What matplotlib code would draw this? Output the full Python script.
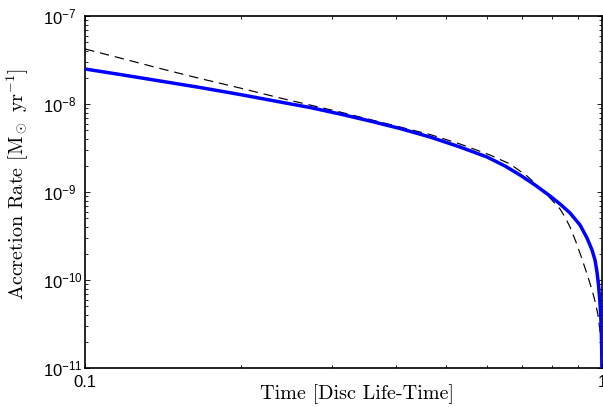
import numpy as np
import matplotlib
matplotlib.use("Agg")
import matplotlib.pyplot as plt
from matplotlib.ticker import LogLocator, FuncFormatter, NullFormatter

# ---- data (time in disc life-times, accretion rate in Msun/yr) ----
t_model = [0.1, 0.1169, 0.1397, 0.1669, 0.1994, 0.2384, 0.2724, 0.3113, 0.3558,
           0.4067, 0.4649, 0.5314, 0.5993, 0.6493, 0.6941, 0.7421, 0.7934,
           0.8295, 0.8672, 0.9067, 0.9354, 0.9565, 0.9693, 0.9780, 0.9846,
           0.9902, 0.9947, 0.9973, 0.9987, 0.9997]
mdot_model = [2.499e-8, 2.164e-8, 1.826e-8, 1.540e-8, 1.282e-8, 1.054e-8,
              9.125e-9, 7.697e-9, 6.408e-9, 5.267e-9, 4.217e-9, 3.245e-9,
              2.499e-9, 1.974e-9, 1.560e-9, 1.201e-9, 9.007e-10, 7.305e-10,
              5.774e-10, 4.217e-10, 3.001e-10, 2.193e-10, 1.688e-10, 1.233e-10,
              8.774e-11, 5.927e-11, 3.798e-11, 2.371e-11, 1.602e-11, 9.0e-12]

t_fit = [0.1, 0.1169, 0.1397, 0.1669, 0.1994, 0.2384, 0.2724, 0.3113, 0.3558,
         0.4067, 0.4649, 0.5314, 0.6074, 0.6639, 0.7161, 0.7588, 0.7934,
         0.8295, 0.8481, 0.8672, 0.8907, 0.9148, 0.9396, 0.9565, 0.9693,
         0.9824, 0.9911, 0.9956, 0.9982]
mdot_fit = [4.217e-8, 3.332e-8, 2.532e-8, 1.949e-8, 1.520e-8, 1.170e-8,
            9.742e-9, 8.111e-9, 6.665e-9, 5.478e-9, 4.502e-9, 3.511e-9,
            2.633e-9, 2.081e-9, 1.520e-9, 1.110e-9, 8.547e-10, 6.410e-10,
            5.200e-10, 4.001e-10, 2.703e-10, 1.732e-10, 1.082e-10, 7.697e-11,
            5.773e-11, 4.001e-11, 2.633e-11, 1.874e-11, 1.369e-11]

x_lim = (0.1, 1.0)
y_lim = (1e-11, 1e-7)
x_major = [0.1, 1.0]
x_major_labels = ["0.1", "1"]

plt.rcParams['font.family'] = ['Liberation Sans', 'DejaVu Sans']
plt.rcParams['mathtext.fontset'] = 'cm'
plt.rcParams['axes.formatter.use_mathtext'] = True

fig = plt.figure(figsize=(6.03, 4.07), dpi=100)
ax = fig.add_axes([85/603, 1-368/407, (602-85)/603, (368-16)/407])

ax.plot(t_model, mdot_model, color='#0000ff', lw=2.5, solid_capstyle='butt', zorder=3)
ax.plot(t_fit, mdot_fit, color='black', lw=0.85, dashes=(8, 5), zorder=2)

ax.set_xscale('log')
ax.set_yscale('log')
ax.set_xlim(*x_lim)
ax.set_ylim(*y_lim)

ax.set_xticks(x_major)
ax.xaxis.set_major_formatter(FuncFormatter(
    lambda v, p: x_major_labels[x_major.index(min(x_major, key=lambda m: abs(m - v)))]))
ax.xaxis.set_minor_locator(LogLocator(base=10, subs=np.arange(2, 10)))
ax.xaxis.set_minor_formatter(NullFormatter())
ax.yaxis.set_major_locator(LogLocator(base=10, numticks=10))
ax.yaxis.set_minor_locator(LogLocator(base=10, subs=np.arange(2, 10), numticks=20))
ax.yaxis.set_minor_formatter(NullFormatter())

ax.tick_params(which='both', direction='in', top=True, right=True, width=0.6)
ax.tick_params(which='major', length=3.6, labelsize=12)
ax.tick_params(axis='x', which='major', pad=5)
ax.tick_params(axis='y', which='major', pad=30)
ax.tick_params(which='minor', length=2.2)
for s in ax.spines.values():
    s.set_linewidth(1.2)

ax.set_xlabel('Time [Disc Life-Time]', family=['cmr10', 'DejaVu Serif'], fontsize=14.5)
ax.set_ylabel(r'Accretion Rate [M$_\odot$ yr$^{-1}$]', family=['cmr10', 'DejaVu Serif'],
              fontsize=14.5)
ax.xaxis.set_label_coords(0.526, -0.045)
ax.yaxis.set_label_coords(-0.104, 0.523)

fig.canvas.draw()
for lbl in ax.get_yticklabels():
    lbl.set_horizontalalignment('left')

fig.savefig('out.png', dpi=100)
